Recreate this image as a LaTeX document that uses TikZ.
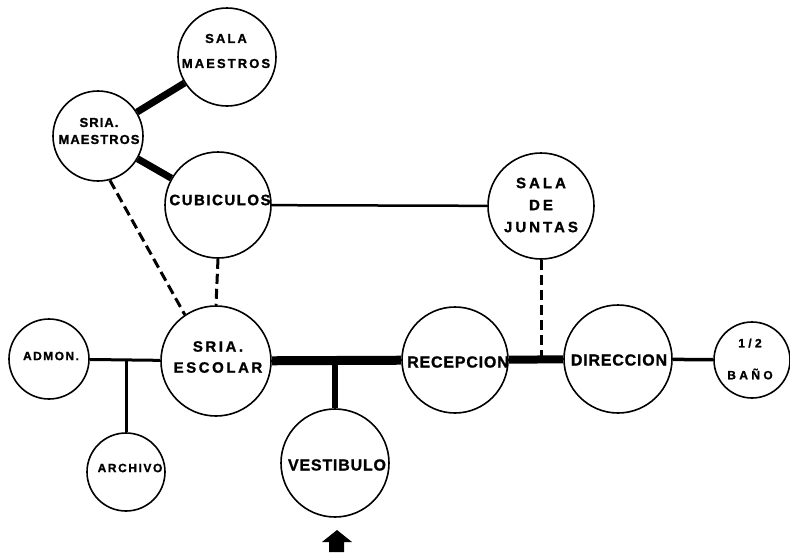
\documentclass[tikz,border=0pt]{standalone}
\usepackage{fontspec}
\newfontfamily\lblfont{Liberation Sans}[FakeBold=1.2]
\usetikzlibrary{backgrounds}
\newcommand\lblset[3]{\lblfont\bfseries\fontsize{#1}{#2}\selectfont\addfontfeature{LetterSpace=#3}}
\tikzset{
  room/.style={circle, draw=black, line width=1.6pt, fill=white, inner sep=0pt},
  lbl/.style={align=center, inner sep=0pt, text=black},
  heavy/.style={line width=#1, line cap=butt},
  dashline/.style={line width=3pt, dash pattern=on 10pt off 5pt},
}
\begin{document}
\begin{tikzpicture}[x=1pt,y=-1pt]
\useasboundingbox (0,0) rectangle (790,552);
% rooms
\node[room, minimum size=98pt]  (salam)   at (227,57) {};
\node[room, minimum size=90pt]  (sriam)   at (98,136) {};
\node[room, minimum size=106pt] (cubic)   at (218,205) {};
\node[room, minimum size=106pt] (juntas)  at (541,206) {};
\node[room, minimum size=80pt]  (admon)   at (49,359) {};
\node[room, minimum size=110pt] (escolar) at (216,361) {};
\node[room, minimum size=106pt] (recep)   at (455,360) {};
\node[room, minimum size=108pt] (direc)   at (618,359) {};
\node[room, minimum size=76pt]  (bano)    at (752,360) {};
\node[room, minimum size=78pt]  (archivo) at (126,472) {};
\node[room, minimum size=108pt] (vesti)   at (335,463) {};
% junctions
\coordinate (jA) at (126,360);
\coordinate (jV) at (335,361);
\coordinate (jJ) at (541,359);
% connectors
\begin{scope}[on background layer]
\draw[heavy=7pt] (salam) -- (sriam);
\draw[heavy=7pt] (sriam) -- (cubic);
\draw[heavy=2.5pt] (cubic) -- (juntas);
\draw[heavy=3pt] (admon) -- (escolar);
\draw[heavy=3pt] (jA) -- (archivo);
\draw[heavy=9pt] (escolar) -- (recep);
\draw[heavy=6pt] (jV) -- (vesti);
\draw[heavy=8pt] (recep) -- (direc);
\draw[heavy=3.5pt] (direc) -- (bano);
\end{scope}
\draw[dashline] (sriam.-75) -- (escolar.124);
\draw[dashline] (cubic.south) -- (escolar.north);
\draw[dashline] (juntas.south) -- (jJ);
% labels
\node[lbl, font=\lblset{13}{25}{16}] (t-salam) at (226,51) {SALA\\MAESTROS};
\node[lbl, font=\lblset{13}{17}{8}] (t-sriam) at (99,131) {SRIA.\\MAESTROS};
\node[lbl, font=\lblset{15}{18}{10}] (t-cubic) at (220,200) {CUBICULOS};
\node[lbl, font=\lblset{15}{22}{20}] (t-juntas) at (541,205) {SALA\\DE\\JUNTAS};
\node[lbl, font=\lblset{12}{14}{12}] (t-admon) at (51,356) {ADMON.};
\node[lbl, font=\lblset{15}{21}{17}] (t-escolar) at (218,357) {SRIA.\\ESCOLAR};
\node[lbl, font=\lblset{16}{18}{5}] (t-recep) at (458,362) {RECEPCION};
\node[lbl, font=\lblset{16}{18}{5}] (t-direc) at (619,360) {DIRECCION};
\node[lbl, font=\lblset{12}{32}{28}] (t-bano) at (750,359) {1/2\\BAÑO};
\node[lbl, font=\lblset{12}{14}{13}] (t-archivo) at (130,468) {ARCHIVO};
\node[lbl, font=\lblset{16}{18}{5}] (t-vesti) at (337,465) {VESTIBULO};
% entrance arrow
\fill[black] (337,530) -- (352,542) -- (344,542) -- (344,552) -- (329,552) -- (329,542) -- (322,542) -- cycle;
\end{tikzpicture}
\end{document}
